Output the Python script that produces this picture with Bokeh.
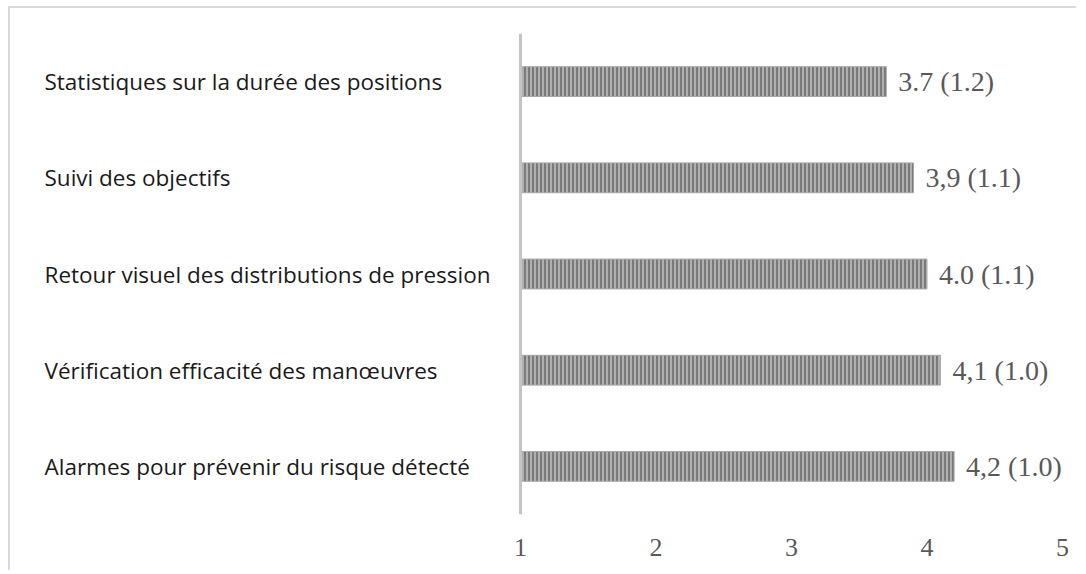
from bokeh.plotting import figure
from bokeh.models import Range1d, Span, ColumnDataSource, FixedTicker
from bokeh.core.properties import value
from bokeh.embed import file_html
from bokeh.resources import INLINE

categories = [
    "Statistiques sur la durée des positions",
    "Suivi des objectifs",
    "Retour visuel des distributions de pression",
    "Vérification efficacité des manœuvres",
    "Alarmes pour prévenir du risque détecté",
]
means = [3.7, 3.9, 4.0, 4.1, 4.2]
value_labels = ["3.7 (1.2)", "3,9 (1.1)", "4.0 (1.1)", "4,1 (1.0)", "4,2 (1.0)"]
tick_values = [1, 2, 3, 4, 5]

W, H = 1068, 564
x_start, x_end = -2.764, 5.118
scale = W / (x_end - x_start)

p = figure(
    width=W, height=H,
    y_range=list(reversed(categories)),
    x_range=Range1d(x_start, x_end),
    output_backend="svg", toolbar_location=None,
    min_border_left=0, min_border_right=0,
    min_border_top=25, min_border_bottom=58,
)
p.styles = {"border-left": "2px solid #d9d9d9", "border-top": "2px solid #d9d9d9",
            "margin-left": "8px", "margin-top": "6px"}
p.outline_line_color = None
p.grid.visible = False
p.yaxis.visible = False

src = ColumnDataSource(dict(cat=categories, mean=means, lab=value_labels,
                            base=[1] * len(means),
                            lx=[x_start + 34 / scale] * len(means)))

p.hbar(y="cat", left="base", right="mean", height=0.31, source=src,
       fill_color="#b0b0b0", line_color="#a8a8a8", line_width=1,
       hatch_pattern="vertical_line", hatch_color="#686868",
       hatch_scale=4, hatch_weight=1.5)

p.add_layout(Span(location=1, dimension="height", line_color="#c4c4c4", line_width=3))

p.text(x="mean", y="cat", text="lab", source=src, x_offset=12,
       text_font=value("Liberation Serif"), text_font_size="28px",
       text_color="#595959", text_baseline="middle", text_align="left")

p.text(x="lx", y="cat", text="cat", source=src,
       text_font=value("Open Sans"), text_font_size="22.5px",
       text_color="#1a1a1a", text_baseline="middle", text_align="left")

ax = p.xaxis[0]
ax.ticker = FixedTicker(ticks=tick_values)
ax.axis_line_color = None
ax.major_tick_line_color = None
ax.minor_tick_line_color = None
ax.major_tick_out = 0
ax.major_label_standoff = 24
ax.major_label_text_font = "Liberation Serif"
ax.major_label_text_font_size = "26px"
ax.major_label_text_color = "#595959"

open("out.html", "w").write(file_html(p, INLINE))
